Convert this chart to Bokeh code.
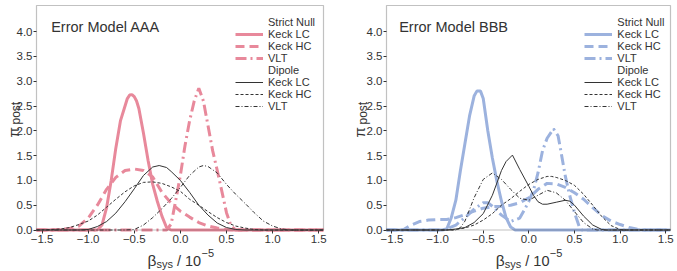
import math
from bokeh.plotting import figure
from bokeh.layouts import row
from bokeh.models import Range1d, FixedTicker, Label, Legend, LegendItem, BoxAnnotation
from bokeh.embed import file_html
from bokeh.resources import INLINE

# ---------------- data ----------------
x_ticks = [-1.5, -1.0, -0.5, 0.0, 0.5, 1.0, 1.5]
x_tick_labels = ["\u22121.5", "\u22121.0", "\u22120.5", "0.0", "0.5", "1.0", "1.5"]
y_ticks = [0.0, 0.5, 1.0, 1.5, 2.0, 2.5, 3.0, 3.5, 4.0]
y_tick_labels = ["0.0", "0.5", "1.0", "1.5", "2.0", "2.5", "3.0", "3.5", "4.0"]

panel_titles = ["Error Model AAA", "Error Model BBB"]
legend_labels = ["Strict Null", "Keck LC", "Keck HC", "VLT",
                 "Dipole", "Keck LC", "Keck HC", "VLT"]

# Error Model AAA -- strict null
aaa_null_lc_x = [-1.56, -0.9, -0.85, -0.8, -0.75, -0.7, -0.65, -0.6, -0.575, -0.55, -0.525, -0.5,
                 -0.475, -0.45, -0.4, -0.35, -0.3, -0.25, -0.2, -0.15, -0.1, 1.55]
aaa_null_lc_y = [0, 0, 0.1, 0.45, 1.0, 1.65, 2.2, 2.5, 2.65, 2.72, 2.73, 2.69,
                 2.6, 2.45, 1.95, 1.4, 0.92, 0.58, 0.28, 0.05, 0, 0]
aaa_null_hc_x = [-1.56, -1.4, -1.3, -1.2, -1.1, -1.0, -0.9, -0.8, -0.7, -0.6, -0.5, -0.4, -0.3,
                 -0.2, -0.1, 0.0, 0.1, 0.2, 0.3, 0.4, 0.5, 0.6, 1.55]
aaa_null_hc_y = [0, 0.0, 0.01, 0.03, 0.08, 0.24, 0.5, 0.82, 1.06, 1.2, 1.23, 1.2, 1.07,
                 0.76, 0.54, 0.38, 0.26, 0.15, 0.08, 0.04, 0.01, 0, 0]
aaa_null_vlt_x = [-1.56, -0.15, -0.1, -0.05, 0.0, 0.05, 0.1, 0.15, 0.2, 0.25, 0.3, 0.35, 0.4,
                  0.45, 0.5, 0.55, 0.6, 1.55]
aaa_null_vlt_y = [0, 0, 0.12, 0.6, 1.1, 1.7, 2.2, 2.6, 2.86, 2.6, 2.1, 1.6, 1.2,
                  0.78, 0.35, 0.08, 0, 0]

# Error Model AAA -- dipole
aaa_dip_lc_x = [-1.56, -1.1, -1.0, -0.9, -0.8, -0.7, -0.6, -0.5, -0.4, -0.3, -0.23, -0.15, -0.1,
                0.0, 0.1, 0.2, 0.3, 0.4, 0.5, 0.6, 0.7, 1.55]
aaa_dip_lc_y = [0, 0, 0.01, 0.07, 0.17, 0.34, 0.57, 0.83, 1.1, 1.27, 1.3, 1.26, 1.18,
                1.0, 0.76, 0.5, 0.3, 0.14, 0.05, 0.01, 0, 0]
aaa_dip_hc_x = [-1.56, -1.4, -1.3, -1.2, -1.1, -1.0, -0.9, -0.8, -0.7, -0.6, -0.5, -0.4, -0.3,
                -0.2, -0.1, 0.0, 0.1, 0.2, 0.3, 0.4, 0.5, 0.6, 0.7, 0.8, 0.9, 1.55]
aaa_dip_hc_y = [0, 0.01, 0.02, 0.05, 0.11, 0.18, 0.3, 0.46, 0.62, 0.77, 0.89, 0.96, 0.97,
                0.94, 0.87, 0.78, 0.62, 0.5, 0.37, 0.25, 0.15, 0.08, 0.04, 0.01, 0, 0]
aaa_dip_vlt_x = [-1.56, -0.6, -0.5, -0.4, -0.3, -0.2, -0.1, 0.0, 0.1, 0.2, 0.25, 0.3, 0.4,
                 0.5, 0.6, 0.7, 0.8, 0.9, 1.0, 1.1, 1.2, 1.55]
aaa_dip_vlt_y = [0, 0, 0.01, 0.1, 0.25, 0.43, 0.63, 0.86, 1.1, 1.27, 1.3, 1.28, 1.15,
                 0.92, 0.72, 0.54, 0.35, 0.18, 0.08, 0.02, 0, 0]

# Error Model BBB -- strict null
bbb_null_lc_x = [-1.56, -0.95, -0.9, -0.85, -0.8, -0.75, -0.7, -0.65, -0.6, -0.57, -0.53, -0.5,
                 -0.45, -0.4, -0.35, -0.3, -0.25, -0.2, -0.15, 1.55]
bbb_null_lc_y = [0, 0, 0.02, 0.25, 0.6, 1.2, 1.75, 2.3, 2.7, 2.8, 2.8, 2.65,
                 2.0, 1.45, 0.98, 0.58, 0.25, 0.06, 0, 0]
bbb_null_hc_x = [-1.56, -1.38, -1.3, -1.2, -1.1, -1.0, -0.9, -0.8, -0.7, -0.6, -0.5, -0.4, -0.3,
                 -0.2, -0.1, 0.0, 0.1, 0.2, 0.3, 0.4, 0.5, 0.6, 0.7, 0.8, 0.9, 1.0, 1.1, 1.2,
                 1.25, 1.55]
bbb_null_hc_y = [0, 0, 0.09, 0.17, 0.2, 0.21, 0.21, 0.25, 0.31, 0.38, 0.44, 0.47, 0.48,
                 0.5, 0.55, 0.65, 0.82, 0.94, 0.93, 0.86, 0.75, 0.62, 0.45, 0.29, 0.18, 0.11,
                 0.05, 0.01, 0, 0]
bbb_null_vlt_x = [-1.56, -0.95, -0.9, -0.8, -0.7, -0.6, -0.5, -0.45, -0.4, -0.3, -0.2, -0.1,
                  -0.05, 0.0, 0.05, 0.1, 0.15, 0.2, 0.27, 0.32, 0.35, 0.4, 0.45, 0.5, 0.55,
                  0.58, 1.55]
bbb_null_vlt_y = [0, 0, 0.02, 0.1, 0.25, 0.42, 0.55, 0.55, 0.48, 0.3, 0.17, 0.24,
                  0.4, 0.58, 0.8, 1.15, 1.6, 1.85, 2.04, 1.9, 1.6, 1.08, 0.68, 0.35, 0.08,
                  0, 0]

# Error Model BBB -- dipole
bbb_dip_lc_x = [-1.56, -0.9, -0.8, -0.7, -0.6, -0.5, -0.4, -0.3, -0.25, -0.18, -0.1, 0.0,
                0.05, 0.1, 0.15, 0.2, 0.3, 0.4, 0.45, 0.5, 0.6, 0.7, 0.8, 0.85, 1.55]
bbb_dip_lc_y = [0, 0, 0.02, 0.05, 0.15, 0.33, 0.7, 1.2, 1.38, 1.51, 1.22, 0.88,
                0.7, 0.57, 0.52, 0.52, 0.56, 0.6, 0.58, 0.5, 0.28, 0.1, 0.01, 0, 0]
bbb_dip_hc_x = [-1.56, -0.85, -0.8, -0.7, -0.6, -0.5, -0.4, -0.3, -0.2, -0.1, 0.0, 0.1, 0.2,
                0.25, 0.3, 0.4, 0.5, 0.6, 0.7, 0.8, 0.9, 1.0, 1.05, 1.55]
bbb_dip_hc_y = [0, 0, 0.01, 0.04, 0.1, 0.2, 0.33, 0.5, 0.63, 0.78, 0.92, 1.02, 1.08,
                1.08, 1.06, 1.0, 0.9, 0.72, 0.5, 0.27, 0.09, 0.01, 0, 0]
bbb_dip_vlt_x = [-1.56, -0.8, -0.75, -0.7, -0.6, -0.5, -0.4, -0.3, -0.2, -0.1, 0.0, 0.1, 0.2,
                 0.3, 0.4, 0.5, 0.6, 0.7, 0.75, 1.55]
bbb_dip_vlt_y = [0, 0, 0.05, 0.18, 0.65, 1.02, 1.15, 1.02, 0.82, 0.64, 0.6, 0.7, 0.8,
                 0.75, 0.6, 0.37, 0.15, 0.02, 0, 0]

# ---------------- styling / geometry ----------------
FONT = "Liberation Sans"
TXT = "#333333"
PINK = "#E8899B"
BLUE = "#9CB2DE"
DARK = "#333333"

X_LO, X_HI = -1.56, 1.552       # plot box limits (data)
FIG_H = 270
BOX_BOTTOM_PX = 40.5            # box bottom above canvas bottom
PX_PER_Y = 49.6
Y_START = -BOX_BOTTOM_PX / PX_PER_Y
Y_END = Y_START + FIG_H / PX_PER_Y
Y_HI = (FIG_H - 5 - BOX_BOTTOM_PX) / PX_PER_Y


def make_panel(title, color, null_curves, dip_curves, width, box_left, box_w,
               title_x, leg_x, xt_x, yt_x):
    sx = box_w / (X_HI - X_LO)
    x_start = X_LO - box_left / sx
    x_end = x_start + width / sx
    p = figure(width=width, height=FIG_H,
               x_range=Range1d(x_start, x_end), y_range=Range1d(Y_START, Y_END),
               output_backend="svg", toolbar_location=None,
               min_border_left=0, min_border_right=0,
               min_border_top=0, min_border_bottom=0)
    p.background_fill_color = "white"
    p.border_fill_color = "white"
    p.outline_line_color = None
    p.xgrid.visible = False
    p.ygrid.visible = False

    for ax in (p.xaxis, p.yaxis):
        ax.axis_line_color = None
        ax.major_tick_line_color = DARK
        ax.major_tick_out = 3
        ax.major_tick_in = 0
        ax.minor_tick_line_color = None
        ax.major_label_text_font = FONT
        ax.major_label_text_font_size = "11.5px"
        ax.major_label_text_color = TXT
    p.xaxis.major_label_standoff = 2
    p.yaxis.major_label_standoff = 1
    p.xaxis.fixed_location = 0
    p.yaxis.fixed_location = X_LO
    p.xaxis.ticker = FixedTicker(ticks=x_ticks)
    p.xaxis.major_label_overrides = dict(zip(x_ticks, x_tick_labels))
    p.yaxis.ticker = FixedTicker(ticks=y_ticks)
    p.yaxis.major_label_overrides = dict(zip(y_ticks, y_tick_labels))

    null_styles = [dict(line_dash="solid"), dict(line_dash="9 5"), dict(line_dash="11 4 2 4")]
    dip_styles = [dict(line_dash="solid"), dict(line_dash="3 2"), dict(line_dash="4 2 1 2")]

    header1 = p.line([], [], line_alpha=0)
    null_r = []
    for (cx, cy), st in zip(null_curves, null_styles):
        null_r.append(p.line(cx, cy, line_color=color, line_width=3, **st))
    header2 = p.line([], [], line_alpha=0)
    dip_r = []
    for (cx, cy), st in zip(dip_curves, dip_styles):
        dip_r.append(p.line(cx, cy, line_color=DARK, line_width=1, **st))

    # plot box
    p.add_layout(BoxAnnotation(left=X_LO, right=X_HI, bottom=0, top=Y_HI,
                               fill_alpha=0, line_color=DARK, line_width=1.2))

    rends = [header1] + null_r + [header2] + dip_r
    items = [LegendItem(label=lab, renderers=[r]) for lab, r in zip(legend_labels, rends)]
    legend = Legend(items=items, location=(leg_x, 158.5),
                    background_fill_alpha=0, border_line_alpha=0,
                    padding=0, margin=0, spacing=0,
                    label_standoff=5, glyph_width=28, glyph_height=12, label_height=12,
                    label_text_font=FONT, label_text_font_size="11px",
                    label_text_color=TXT)
    p.add_layout(legend)

    # panel title
    p.add_layout(Label(x=title_x, y=243.3, x_units="screen", y_units="screen", text=title,
                       text_font=FONT, text_font_size="14.5px", text_color=TXT,
                       text_baseline="alphabetic"))
    # x axis title: beta_sys / 10^-5
    p.add_layout(Label(x=xt_x, y=10, x_units="screen", y_units="screen", text="\u03b2",
                       text_font=FONT, text_font_size="15.5px", text_color=TXT,
                       text_baseline="alphabetic"))
    p.add_layout(Label(x=xt_x + 9, y=7, x_units="screen", y_units="screen", text="sys",
                       text_font=FONT, text_font_size="11px", text_color=TXT,
                       text_baseline="alphabetic"))
    p.add_layout(Label(x=xt_x + 29.5, y=10, x_units="screen", y_units="screen", text="/ 10",
                       text_font=FONT, text_font_size="14.5px", text_color=TXT,
                       text_baseline="alphabetic"))
    p.add_layout(Label(x=xt_x + 54, y=17.5, x_units="screen", y_units="screen", text="\u22125",
                       text_font=FONT, text_font_size="11px", text_color=TXT,
                       text_baseline="alphabetic"))
    # y axis title: pi_post
    p.add_layout(Label(x=yt_x, y=133, x_units="screen", y_units="screen", text="\u03c0",
                       angle=math.pi / 2, text_font=FONT, text_font_size="15px",
                       text_color=TXT, text_baseline="alphabetic"))
    p.add_layout(Label(x=yt_x + 3, y=146, x_units="screen", y_units="screen", text="post",
                       angle=math.pi / 2, text_font=FONT, text_font_size="12px",
                       text_color=TXT, text_baseline="alphabetic"))
    return p


p1 = make_panel(panel_titles[0], PINK,
                [(aaa_null_lc_x, aaa_null_lc_y), (aaa_null_hc_x, aaa_null_hc_y),
                 (aaa_null_vlt_x, aaa_null_vlt_y)],
                [(aaa_dip_lc_x, aaa_dip_lc_y), (aaa_dip_hc_x, aaa_dip_hc_y),
                 (aaa_dip_vlt_x, aaa_dip_vlt_y)],
                width=337, box_left=36, box_w=287,
                title_x=50.7, leg_x=235, xt_x=147, yt_x=12.5)
p2 = make_panel(panel_titles[1], BLUE,
                [(bbb_null_lc_x, bbb_null_lc_y), (bbb_null_hc_x, bbb_null_hc_y),
                 (bbb_null_vlt_x, bbb_null_vlt_y)],
                [(bbb_dip_lc_x, bbb_dip_lc_y), (bbb_dip_hc_x, bbb_dip_hc_y),
                 (bbb_dip_vlt_x, bbb_dip_vlt_y)],
                width=339, box_left=49, box_w=284,
                title_x=61.7, leg_x=247.3, xt_x=158.3, yt_x=22)

layout = row(p1, p2)
open("out.html", "w").write(file_html(layout, INLINE))
